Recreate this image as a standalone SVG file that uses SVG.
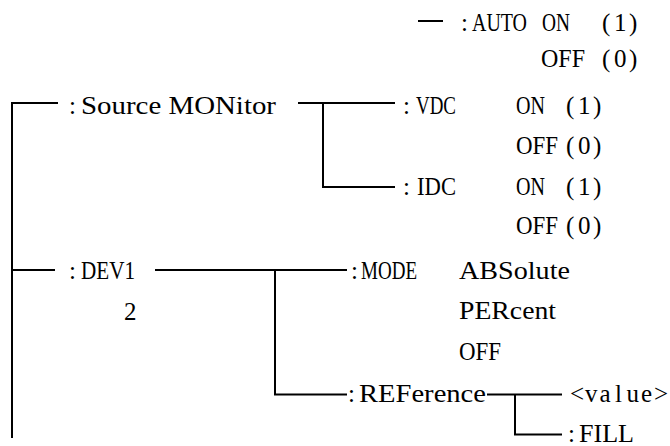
<svg xmlns="http://www.w3.org/2000/svg" width="670" height="446" viewBox="0 0 670 446">
<style>
text{font-family:"Liberation Serif","DejaVu Serif",serif;font-size:25px;fill:#000}
.c{stroke:#000;stroke-width:2;fill:none}
</style>
<rect width="670" height="446" fill="#fff"/>
<g id="connectors">
<path class="c" d="M12,438 V103 H58"/>
<path class="c" d="M12,270 H55"/>
<path class="c" d="M418,21 H443"/>
<path class="c" d="M298,103 H395 M323,103 V187 H395"/>
<path class="c" d="M155,270 H347 M275,270 V394.5 H347"/>
<path class="c" d="M487,394.5 H562 M515,394.5 V434.5 H562"/>
</g>
<g id="auto">
<text y="31"><tspan x="461">:</tspan><tspan x="472" textLength="55" lengthAdjust="spacingAndGlyphs">AUTO</tspan></text>
<text x="542" y="31" textLength="28" lengthAdjust="spacingAndGlyphs">ON</text>
<text x="602 614 629" y="31">(1)</text>
<text x="541" y="67" textLength="44" lengthAdjust="spacingAndGlyphs">OFF</text>
<text x="602 614 629" y="67">(0)</text>
</g>
<g id="source">
<text y="114"><tspan x="69">:</tspan><tspan x="81" textLength="195" lengthAdjust="spacingAndGlyphs">Source MONitor</tspan></text>
</g>
<g id="vdc">
<text y="114"><tspan x="403">:</tspan><tspan x="416" textLength="40" lengthAdjust="spacingAndGlyphs">VDC</tspan></text>
<text x="516" y="114" textLength="29" lengthAdjust="spacingAndGlyphs">ON</text>
<text x="566 578 593" y="114">(1)</text>
<text x="516" y="154" textLength="42" lengthAdjust="spacingAndGlyphs">OFF</text>
<text x="566 578 593" y="154">(0)</text>
</g>
<g id="idc">
<text y="195"><tspan x="403">:</tspan><tspan x="417" textLength="39" lengthAdjust="spacingAndGlyphs">IDC</tspan></text>
<text x="516" y="195" textLength="29" lengthAdjust="spacingAndGlyphs">ON</text>
<text x="566 578 593" y="195">(1)</text>
<text x="516" y="234" textLength="42" lengthAdjust="spacingAndGlyphs">OFF</text>
<text x="566 578 593" y="234">(0)</text>
</g>
<g id="dev">
<text y="279"><tspan x="69">:</tspan><tspan x="81" textLength="54" lengthAdjust="spacingAndGlyphs">DEV1</tspan></text>
<text x="124" y="320">2</text>
</g>
<g id="mode">
<text y="279"><tspan x="351">:</tspan><tspan x="361" textLength="56" lengthAdjust="spacingAndGlyphs">MODE</tspan></text>
<text x="459" y="279" textLength="111" lengthAdjust="spacingAndGlyphs">ABSolute</text>
<text x="459" y="319" textLength="97" lengthAdjust="spacingAndGlyphs">PERcent</text>
<text x="459" y="360" textLength="42" lengthAdjust="spacingAndGlyphs">OFF</text>
</g>
<g id="reference">
<text y="402"><tspan x="348">:</tspan><tspan x="359" textLength="127" lengthAdjust="spacingAndGlyphs">REFerence</tspan></text>
</g>
<g id="value">
<text x="570 585 599.5 615 626.5 641 654" y="402">&lt;value&gt;</text>
</g>
<g id="fill">
<text y="442"><tspan x="568">:</tspan><tspan x="579" textLength="55" lengthAdjust="spacingAndGlyphs">FILL</tspan></text>
</g>
</svg>
